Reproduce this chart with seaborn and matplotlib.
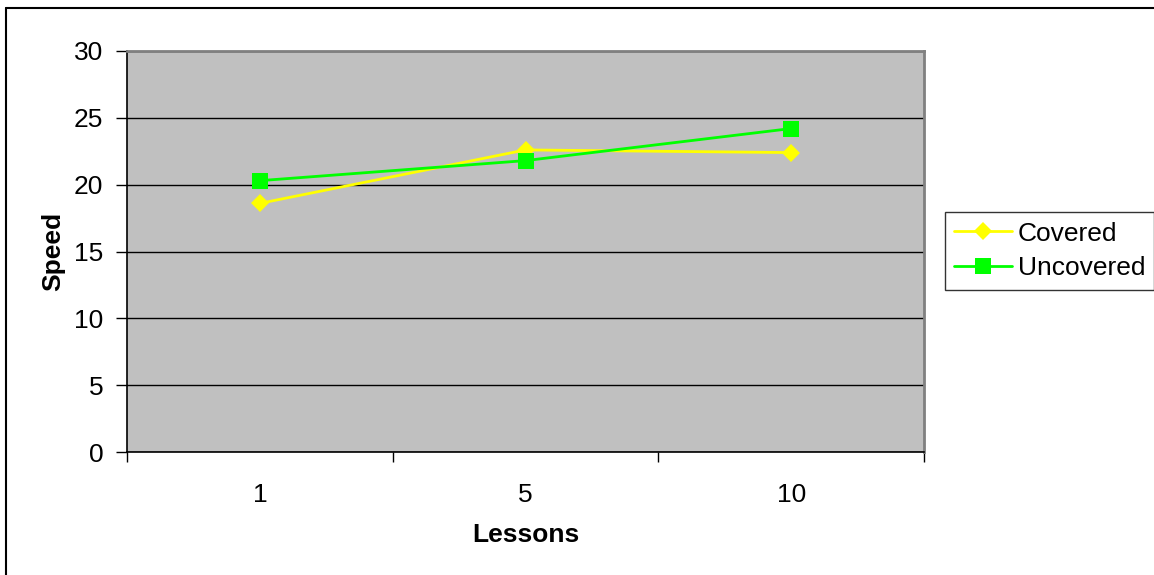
import pandas as pd
import seaborn as sns
import matplotlib.pyplot as plt
from matplotlib.lines import Line2D

# Data
lessons = ['1', '5', '10']
covered = [18.6, 22.6, 22.4]
uncovered = [20.3, 21.8, 24.2]
series_names = ['Covered', 'Uncovered']
y_ticks = [0, 5, 10, 15, 20, 25, 30]

df = pd.DataFrame({
    'Lessons': lessons * 2,
    'Speed': covered + uncovered,
    'Series': [series_names[0]] * 3 + [series_names[1]] * 3,
})

sns.set_style('white')
plt.rcParams['font.family'] = ['Liberation Sans', 'DejaVu Sans']
plt.rcParams['text.color'] = 'black'
plt.rcParams['axes.labelcolor'] = 'black'
plt.rcParams['xtick.color'] = 'black'
plt.rcParams['ytick.color'] = 'black'

fig = plt.figure(figsize=(11.54, 5.75), dpi=100)
ax = fig.add_axes([127 / 1154, 1 - 452 / 575, (924 - 127) / 1154, (452 - 51) / 575])
ax.set_facecolor('#C0C0C0')

palette = {'Covered': '#FFFF00', 'Uncovered': '#00FF00'}
markers = {'Covered': 'D', 'Uncovered': 's'}
msize = {'Covered': 9.5, 'Uncovered': 11.5}
sns.lineplot(data=df, x='Lessons', y='Speed', hue='Series', style='Series',
             palette=palette, markers=markers, dashes=False, sort=False,
             linewidth=2, ax=ax, legend=False)
for line, name in zip(ax.lines, series_names):
    line.set_markersize(msize[name])
    line.set_markeredgewidth(0)
    line.set_zorder(3)

ax.set_xlim(-0.5, 2.5)
ax.set_ylim(0, 30)
ax.set_yticks(y_ticks)
ax.set_xticks([0, 1, 2])
ax.set_xticklabels(lessons)
ax.set_xticks([-0.5, 0.5, 1.5, 2.5], minor=True)
ax.tick_params(axis='x', which='major', length=0, pad=22, labelsize=19)
ax.tick_params(axis='x', which='minor', length=7, width=1, color='black', direction='out', bottom=True)
ax.tick_params(axis='y', length=8, width=1, color='black', direction='out', left=True, pad=9, labelsize=19)

ax.yaxis.grid(True, color='black', linewidth=1)
ax.set_axisbelow(True)
for side in ['left', 'bottom']:
    ax.spines[side].set_color('black')
    ax.spines[side].set_linewidth(1.2)
for side in ['top', 'right']:
    ax.spines[side].set_color('#808080')
    ax.spines[side].set_linewidth(2)
    ax.spines[side].set_visible(True)

ax.set_xlabel('Lessons', fontsize=19, fontweight='bold', labelpad=12)
ax.set_ylabel('Speed', fontsize=19, fontweight='bold', labelpad=6)

handles = [Line2D([], [], color=palette[n], marker=markers[n], linewidth=2,
                  markersize=msize[n], markeredgewidth=0)
           for n in series_names]
leg = fig.legend(handles, series_names, loc='center left',
                 bbox_to_anchor=(945 / 1154, 1 - 251 / 575), fontsize=19,
                 frameon=True, fancybox=False, edgecolor='black',
                 handlelength=2.2, borderpad=0.35, labelspacing=0.4,
                 handletextpad=0.2, borderaxespad=0)
leg.get_frame().set_linewidth(1)

# outer chart frame (only top and left edges fall inside the image)
fig.add_artist(Line2D([6 / 1154, 6 / 1154], [0, 1 - 8 / 575], color='black',
                      linewidth=1.5, transform=fig.transFigure))
fig.add_artist(Line2D([6 / 1154, 1], [1 - 8 / 575, 1 - 8 / 575], color='black',
                      linewidth=1.5, transform=fig.transFigure))

fig.savefig('out.png', dpi=100)
